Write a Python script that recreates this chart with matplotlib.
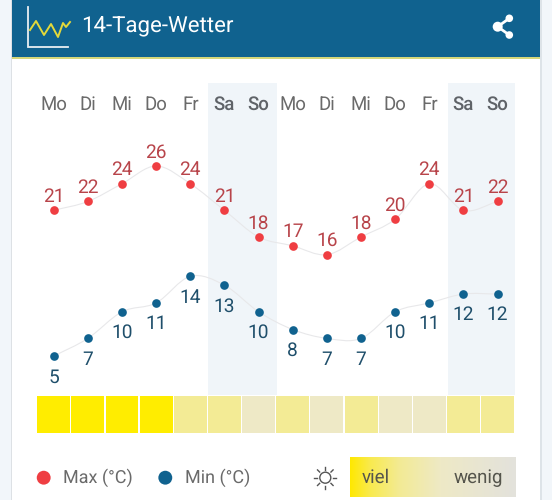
import numpy as np
import matplotlib
matplotlib.use('Agg')
import matplotlib.pyplot as plt
import matplotlib.patches as mpatches
from matplotlib.colors import LinearSegmentedColormap
from matplotlib.path import Path

plt.rcParams['font.family'] = ['Roboto', 'DejaVu Sans']
plt.rcParams['text.hinting'] = 'no_hinting'

# ── Data ──────────────────────────────────────────────────────────────────────
days     = ['Mo', 'Di', 'Mi', 'Do', 'Fr', 'Sa', 'So',
            'Mo', 'Di', 'Mi', 'Do', 'Fr', 'Sa', 'So']
temp_max = [21, 22, 24, 26, 24, 21, 18, 17, 16, 18, 20, 24, 21, 22]
temp_min = [5, 7, 10, 11, 14, 13, 10, 8, 7, 7, 10, 11, 12, 12]
sun      = [2, 2, 2, 2, 1, 1, 0, 1, 0, 1, 0, 0, 1, 1]   # 2 = viel, 0 = wenig
weekend  = [5, 6, 12, 13]

# ── Colours ───────────────────────────────────────────────────────────────────
BLUE = '#10628F'
RED = '#EF3E42'
TXT_RED = '#B8444A'
TXT_BLUE = '#1F4F6B'
GREY = '#6A6A6A'
BAND = '#F0F5F9'
LINE = '#E8E8EA'
SUN_COL = {2: '#FFED00', 1: '#F3EB95', 0: '#EEE9C6'}

W, H = 552, 500
fig = plt.figure(figsize=(W / 100, H / 100), dpi=100, facecolor='#F2F6FA')


def px_axes(zorder):
    a = fig.add_axes([0, 0, 1, 1], zorder=zorder)
    a.axis('off')
    a.patch.set_alpha(0)
    return a


# ── Page furniture, in pixel coordinates ──────────────────────────────────────
bg = px_axes(0)
bg.set_xlim(0, W)
bg.set_ylim(H, 0)
bg.add_patch(mpatches.Rectangle((11, 0), 1.5, H, color='#DDE1E5', lw=0))
bg.add_patch(mpatches.Rectangle((540, 0), 1.5, H, color='#DDE3E8', lw=0))
bg.add_patch(mpatches.Rectangle((12, 0), 528, H, color='white', lw=0))
bg.add_patch(mpatches.Rectangle((12, 0), 528, 57, color=BLUE, lw=0))
bg.add_patch(mpatches.Rectangle((12, 57), 528, 2, color='#D5D77A', lw=0))

# header logo
bg.plot([28.3, 28.3, 68], [7, 46.5, 46.5], color='#E8EEF2', lw=1.3,
        solid_joinstyle='miter')
bg.plot([30, 36, 44, 51, 58, 63, 66, 70], [30, 21, 35, 24, 37, 23, 27, 22],
        color='#E3D93A', lw=1.4)
bg.text(81.5, 27, '14-Tage-Wetter', color='white', fontsize=16,
        ha='left', va='center')

# share icon
bg.plot([509.3, 497.7, 509.3], [18.3, 26.7, 35], color='white', lw=2)
for cx, cy, r in [(509.3, 18.3, 3.8), (497.7, 26.7, 5), (509.3, 35, 3.8)]:
    bg.add_patch(mpatches.Circle((cx, cy), r, color='white', lw=0))

# ── Temperature axes: same frame, each series on its own scale ────────────────
step = 34.15
x0 = 53.7
px_deg = 8.87
xlim = (-x0 / step, (W - x0) / step)
x = np.arange(len(days))


def temp_axes(ref_temp, ref_px):
    a = px_axes(2)
    a.set_xlim(*xlim)
    a.set_ylim(ref_temp - (H - ref_px) / px_deg, ref_temp + ref_px / px_deg)
    return a


def smooth_line(a, xs, ys):
    # same kind of soft curve as the chart, bezier through the points
    xs, ys = np.asarray(xs, float), np.asarray(ys, float)
    verts = [(xs[0], ys[0])]
    codes = [Path.MOVETO]
    n = len(xs)
    for i in range(n - 1):
        d0 = (ys[i + 1] - ys[max(i - 1, 0)]) / (xs[i + 1] - xs[max(i - 1, 0)])
        d1 = (ys[min(i + 2, n - 1)] - ys[i]) / (xs[min(i + 2, n - 1)] - xs[i])
        verts += [(xs[i] + 1 / 3, ys[i] + d0 / 3),
                  (xs[i + 1] - 1 / 3, ys[i + 1] - d1 / 3),
                  (xs[i + 1], ys[i + 1])]
        codes += [Path.CURVE4] * 3
    a.add_patch(mpatches.PathPatch(Path(verts, codes), fc='none', ec=LINE, lw=0.8))


ax_max = temp_axes(26, 166)
ax_min = temp_axes(14, 276.3)

# weekend bands
bg.add_patch(mpatches.Rectangle((208, 83), 68.5, 312, color=BAND, lw=0))
bg.add_patch(mpatches.Rectangle((448, 83), 67, 312, color=BAND, lw=0))

smooth_line(ax_max, x, temp_max)
smooth_line(ax_min, x, temp_min)
ax_max.scatter(x, temp_max, s=39, color=RED, lw=0, zorder=3)
ax_min.scatter(x, temp_min, s=39, color=BLUE, lw=0, zorder=3)

for i in x:
    ax_max.annotate(str(temp_max[i]), (i, temp_max[i]), xytext=(0, 6.2),
                    textcoords='offset points', ha='center', va='baseline',
                    fontsize=13.8, color=TXT_RED)
    ax_min.annotate(str(temp_min[i]), (i, temp_min[i]), xytext=(0, -18.9),
                    textcoords='offset points', ha='center', va='baseline',
                    fontsize=13.8, color=TXT_BLUE)
    bold = i in weekend
    ax_max.text(i, 26 + (166 - 105) / px_deg, days[i], ha='center', va='center',
                fontsize=13.4, color='#5F6368' if bold else GREY,
                fontweight='medium' if bold else 'normal')

# ── Sunshine row ──────────────────────────────────────────────────────────────
ax_sun = px_axes(2)
ax_sun.set_xlim(*xlim)
ax_sun.set_ylim(H, 0)
ax_sun.bar(x, [37] * len(x), bottom=396, width=0.965, align='center',
           color=[SUN_COL[s] for s in sun], linewidth=0)

# ── Legend ────────────────────────────────────────────────────────────────────
top = px_axes(3)
top.set_xlim(0, W)
top.set_ylim(H, 0)
top.scatter([43.7, 165.3], [477.7, 477.7], s=100, color=[RED, BLUE], lw=0)
top.text(63, 478, 'Max (°C)', fontsize=13, color=GREY, va='center')
top.text(185, 478, 'Min (°C)', fontsize=13, color=GREY, va='center')

# sun icon
sx, sy = 325.3, 477.7
top.add_patch(mpatches.Circle((sx, sy), 5.5, fc='white', ec='#555555', lw=1))
for ang in np.deg2rad(np.arange(0, 360, 45)):
    top.plot([sx + 8 * np.cos(ang), sx + 11 * np.cos(ang)],
             [sy + 8 * np.sin(ang), sy + 11 * np.sin(ang)],
             color='#555555', lw=1)

# gradient key
cmap = LinearSegmentedColormap.from_list(
    'sun', [(0, '#FFE800'), (0.12, '#F9EA4E'), (0.3, '#F3EB95'),
            (0.55, '#EEE9C6'), (1, '#E3E2DC')])
top.imshow(np.linspace(0, 1, 256)[None, :], cmap=cmap, aspect='auto',
           extent=(349.7, 515, 497, 457.7))
top.set_xlim(0, W)
top.set_ylim(H, 0)
top.text(362, 478, 'viel', fontsize=13.5, color='#55554C', va='center')
top.text(503, 478, 'wenig', fontsize=13.5, color='#55554C', va='center', ha='right')

plt.savefig('out.png', dpi=100, facecolor=fig.get_facecolor())
